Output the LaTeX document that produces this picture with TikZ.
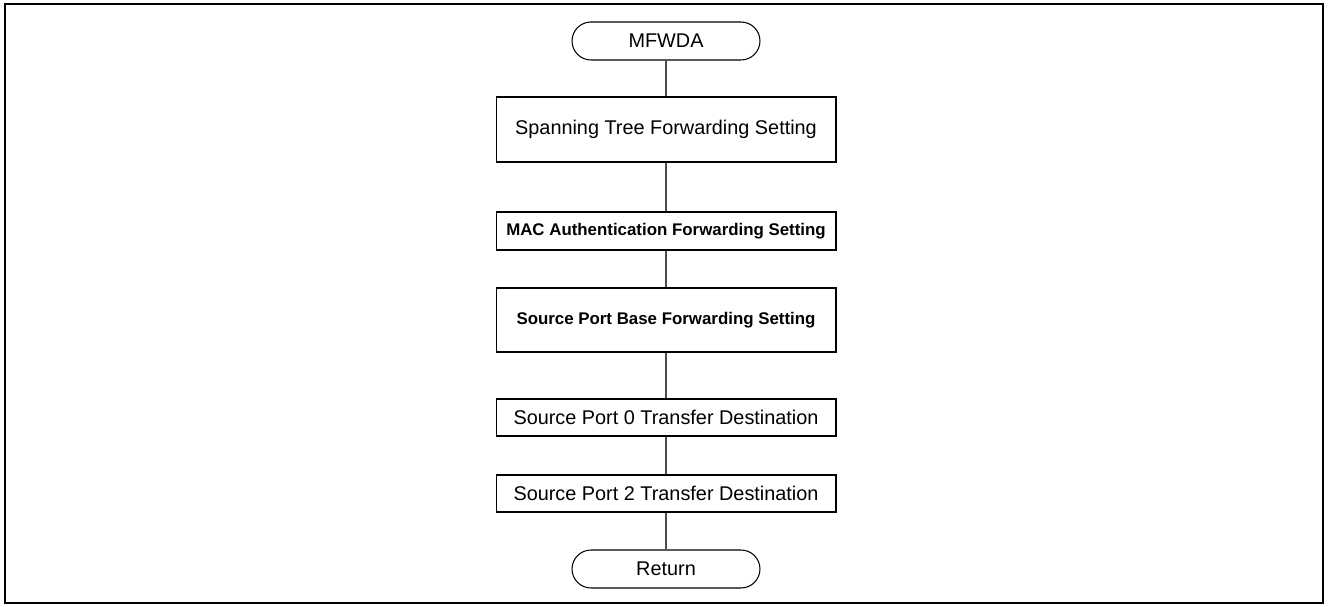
\documentclass[tikz,border=0pt]{standalone}
\usepackage{fontspec}
\setmainfont{Liberation Sans}

\tikzset{
    proc/.style={draw, line width=0.6pt, minimum width=6.8cm, font=\fontsize{11.3}{13}\selectfont},
    procb/.style={proc, font=\fontsize{9.6}{12}\selectfont\bfseries},
    term/.style={draw, line width=0.6pt, rounded corners=3.8mm, minimum width=3.76cm, minimum height=7.6mm, font=\fontsize{11.3}{13}\selectfont}
}

\begin{document}
\begin{tikzpicture}[x=0.02cm, y=-0.02cm]
        \useasboundingbox (0,0) rectangle (1328,607);
        \draw[line width=1.6pt] (5,4) rectangle (1323,603);

        \node[term] (start) at (666,41) {MFWDA};
        \node[proc, minimum height=1.3cm] (stp) at (666,129.5) {Spanning Tree Forwarding Setting};
        \node[procb, minimum height=7.6mm] (mac) at (666,231) {MAC Authentication Forwarding Setting};
        \node[procb, minimum height=1.28cm] (spb) at (666,320) {Source Port Base Forwarding Setting};
        \node[proc, minimum height=7.4mm] (sp0) at (666,417.5) {Source Port 0 Transfer Destination};
        \node[proc, minimum height=7.4mm] (sp2) at (666,493.5) {Source Port 2 Transfer Destination};
        \node[term] (ret) at (666,569) {Return};

        \draw[line width=0.6pt, black!70] (start) -- (stp) -- (mac) -- (spb) -- (sp0) -- (sp2) -- (ret);
    \end{tikzpicture}
\end{document}
